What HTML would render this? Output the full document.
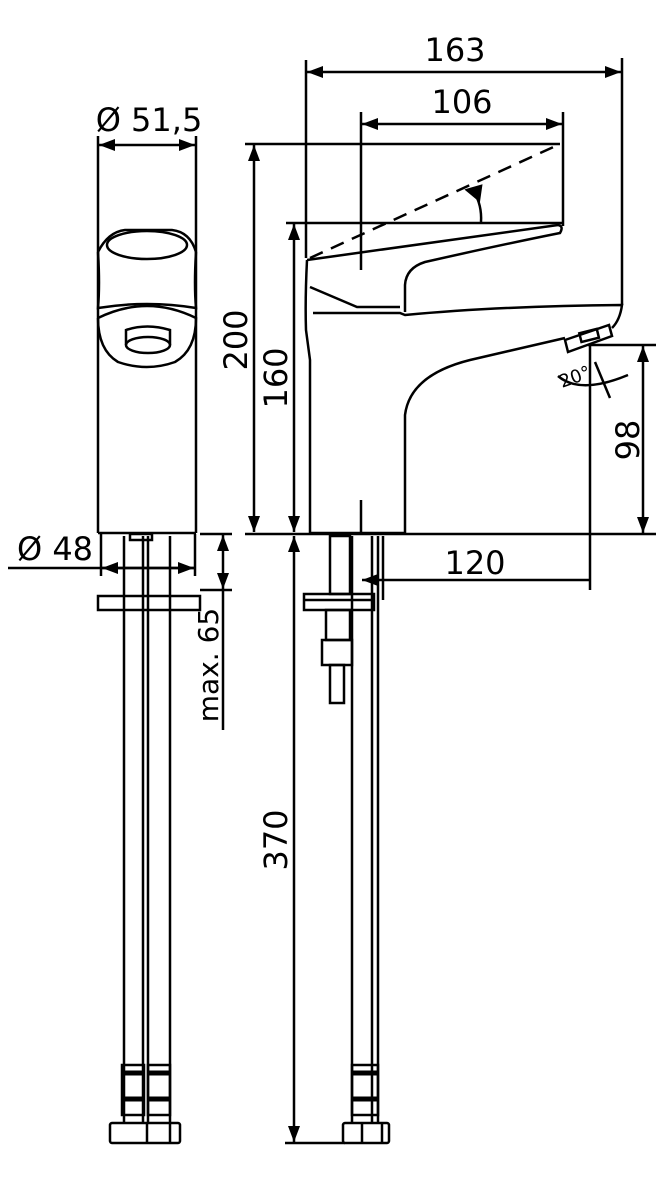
<!DOCTYPE html>
<html><head><meta charset="utf-8"><style>
html,body{margin:0;padding:0;background:#fff}
svg{display:block}
text{font-family:"DejaVu Sans","Liberation Sans",sans-serif;fill:#000}
</style></head><body>
<svg width="666" height="1181" viewBox="0 0 666 1181" xmlns="http://www.w3.org/2000/svg">
<defs>
<marker id="a" viewBox="0 0 16 12" refX="16" refY="6" markerWidth="16" markerHeight="12" markerUnits="userSpaceOnUse" orient="auto-start-reverse"><path d="M0,0 L16,6 L0,12 z" fill="#000"/></marker>
</defs>
<g stroke="#000" stroke-width="2.5" fill="none">
<!-- 163 -->
<line x1="306" y1="60" x2="306" y2="258"/>
<line x1="622" y1="58" x2="622" y2="305"/>
<line x1="307" y1="72" x2="621" y2="72" marker-start="url(#a)" marker-end="url(#a)"/>
<!-- 106 -->
<line x1="361" y1="112" x2="361" y2="270"/>
<line x1="563" y1="112" x2="563" y2="226"/>
<line x1="362" y1="124" x2="562" y2="124" marker-start="url(#a)" marker-end="url(#a)"/>
<!-- 200 -->
<line x1="245" y1="144" x2="560" y2="144"/>
<line x1="254" y1="145" x2="254" y2="532" marker-start="url(#a)" marker-end="url(#a)"/>
<!-- 160 -->
<line x1="286" y1="223" x2="562" y2="223"/>
<line x1="294" y1="224" x2="294" y2="532" marker-start="url(#a)" marker-end="url(#a)"/>
<!-- base line -->
<line x1="245" y1="534" x2="656" y2="534"/>
<!-- 98 -->
<line x1="588" y1="345" x2="656" y2="345"/>
<line x1="643" y1="346" x2="643" y2="533" marker-start="url(#a)" marker-end="url(#a)"/>
<!-- 120 -->
<line x1="590" y1="345" x2="590" y2="590"/>
<line x1="362" y1="580" x2="589" y2="580" marker-start="url(#a)"/>
<!-- 370 -->
<line x1="294" y1="536" x2="294" y2="1142" marker-start="url(#a)" marker-end="url(#a)"/>
<line x1="285" y1="1143" x2="345" y2="1143"/>
<!-- dashed lever -->
<line x1="310" y1="258" x2="560" y2="144" stroke-dasharray="14,9"/>
<path d="M481,222 Q482,205 474,192"/>
<path d="M467,190 L481,186 L479,200 z" fill="#000"/>
<!-- side faucet -->
<path d="M307,260 L558,225 Q564,226 560,233 Q500,245 425,262 Q406,268 405,285 L405,312"/>
<path d="M307,260 Q305,300 306,330 L310,360 L310,533 L405,533 L405,415 Q410,375 470,360 L565,338"/>
<path d="M310,287 L357,307 L400,307"/>
<path d="M313,313 L400,313 L405,315 Q500,306 622,305 Q620,320 612,328"/>
<path d="M565,340 L568,352 L612,336 L609,325 Z"/>
<rect x="580" y="331" width="18" height="9" transform="rotate(-14 589 335)"/>
<line x1="361" y1="500" x2="361" y2="533"/>
<!-- 20 deg -->
<path d="M558,376 Q580,395 628,375"/>
<line x1="595" y1="362" x2="610" y2="398"/>
<!-- left view -->
<line x1="98" y1="136" x2="98" y2="533"/>
<line x1="196" y1="136" x2="196" y2="533"/>
<line x1="99" y1="145" x2="195" y2="145" marker-start="url(#a)" marker-end="url(#a)"/>
<line x1="98" y1="533" x2="196" y2="533"/>
<path d="M98,252 Q108,232 125,230 L172,230 Q190,232 196,252"/>
<ellipse cx="147" cy="245" rx="40" ry="14"/>
<path d="M98,252 Q100,285 98,308 Q147,300 196,308 Q194,285 196,252"/>
<path d="M98,318 Q147,294 196,318 Q196,350 175,362 Q147,372 118,362 Q98,350 98,318"/>
<path d="M126,345 L126,330 Q147,323 170,330 L170,345"/>
<ellipse cx="148" cy="345" rx="22" ry="8"/>
<!-- Ø48 -->
<line x1="101" y1="534" x2="101" y2="576"/>
<line x1="195" y1="534" x2="195" y2="576"/>
<line x1="8" y1="568" x2="195" y2="568"/>
<line x1="102" y1="568" x2="194" y2="568" marker-start="url(#a)" marker-end="url(#a)"/>
<!-- max 65 -->
<line x1="200" y1="534" x2="232" y2="534"/>
<line x1="200" y1="590" x2="232" y2="590"/>
<line x1="223" y1="535" x2="223" y2="589" marker-start="url(#a)" marker-end="url(#a)"/>
<line x1="223" y1="590" x2="223" y2="730"/>
<!-- left pipes -->
<line x1="124" y1="536" x2="124" y2="1123"/>
<line x1="143" y1="536" x2="143" y2="1123"/>
<line x1="148" y1="536" x2="148" y2="1123"/>
<line x1="170" y1="536" x2="170" y2="1123"/>
<rect x="130" y="534" width="22" height="6"/>
<path d="M98,596 L98,610 L200,610 L200,596 Z"/>
<rect x="110" y="1123" width="70" height="20" rx="2"/>
<line x1="147" y1="1123" x2="147" y2="1143"/>
<line x1="170" y1="1123" x2="170" y2="1143"/>
<rect x="122" y="1065" width="22" height="50"/>
<rect x="148" y="1065" width="22" height="50"/>
<line x1="122" y1="1073" x2="144" y2="1073" stroke-width="5"/>
<line x1="148" y1="1073" x2="170" y2="1073" stroke-width="5"/>
<line x1="122" y1="1099" x2="144" y2="1099" stroke-width="5"/>
<line x1="148" y1="1099" x2="170" y2="1099" stroke-width="5"/>
<!-- right pipes -->
<line x1="352" y1="536" x2="352" y2="1123"/>
<line x1="372" y1="536" x2="372" y2="1123"/>
<line x1="378" y1="536" x2="378" y2="1123"/>
<line x1="383" y1="536" x2="383" y2="600"/>
<rect x="304" y="594" width="70" height="16"/>
<line x1="304" y1="600" x2="374" y2="600"/>
<rect x="330" y="536" width="20" height="58"/>
<rect x="326" y="610" width="24" height="30"/>
<rect x="322" y="640" width="30" height="25"/>
<rect x="330" y="665" width="14" height="38"/>
<rect x="343" y="1123" width="46" height="20" rx="2"/>
<line x1="362" y1="1123" x2="362" y2="1143"/>
<line x1="382" y1="1123" x2="382" y2="1143"/>
<rect x="352" y="1065" width="26" height="50"/>
<line x1="352" y1="1073" x2="378" y2="1073" stroke-width="5"/>
<line x1="352" y1="1099" x2="378" y2="1099" stroke-width="5"/>
</g>
<text x="455" y="61" font-size="32" text-anchor="middle">163</text>
<text x="462" y="113" font-size="32" text-anchor="middle">106</text>
<text x="149" y="131" font-size="32" text-anchor="middle">Ø 51,5</text>
<text x="55" y="560" font-size="32" text-anchor="middle">Ø 48</text>
<text x="475" y="574" font-size="32" text-anchor="middle">120</text>
<text x="562" y="388" font-size="18" transform="rotate(-20 562 388)">20°</text>
<text transform="translate(247 340) rotate(-90)" font-size="32" text-anchor="middle">200</text>
<text transform="translate(287 378) rotate(-90)" font-size="32" text-anchor="middle">160</text>
<text transform="translate(639 440) rotate(-90)" font-size="32" text-anchor="middle">98</text>
<text transform="translate(287 840) rotate(-90)" font-size="32" text-anchor="middle">370</text>
<text transform="translate(218 665) rotate(-90)" font-size="28" text-anchor="middle">max. 65</text>
</svg>
</body></html>
